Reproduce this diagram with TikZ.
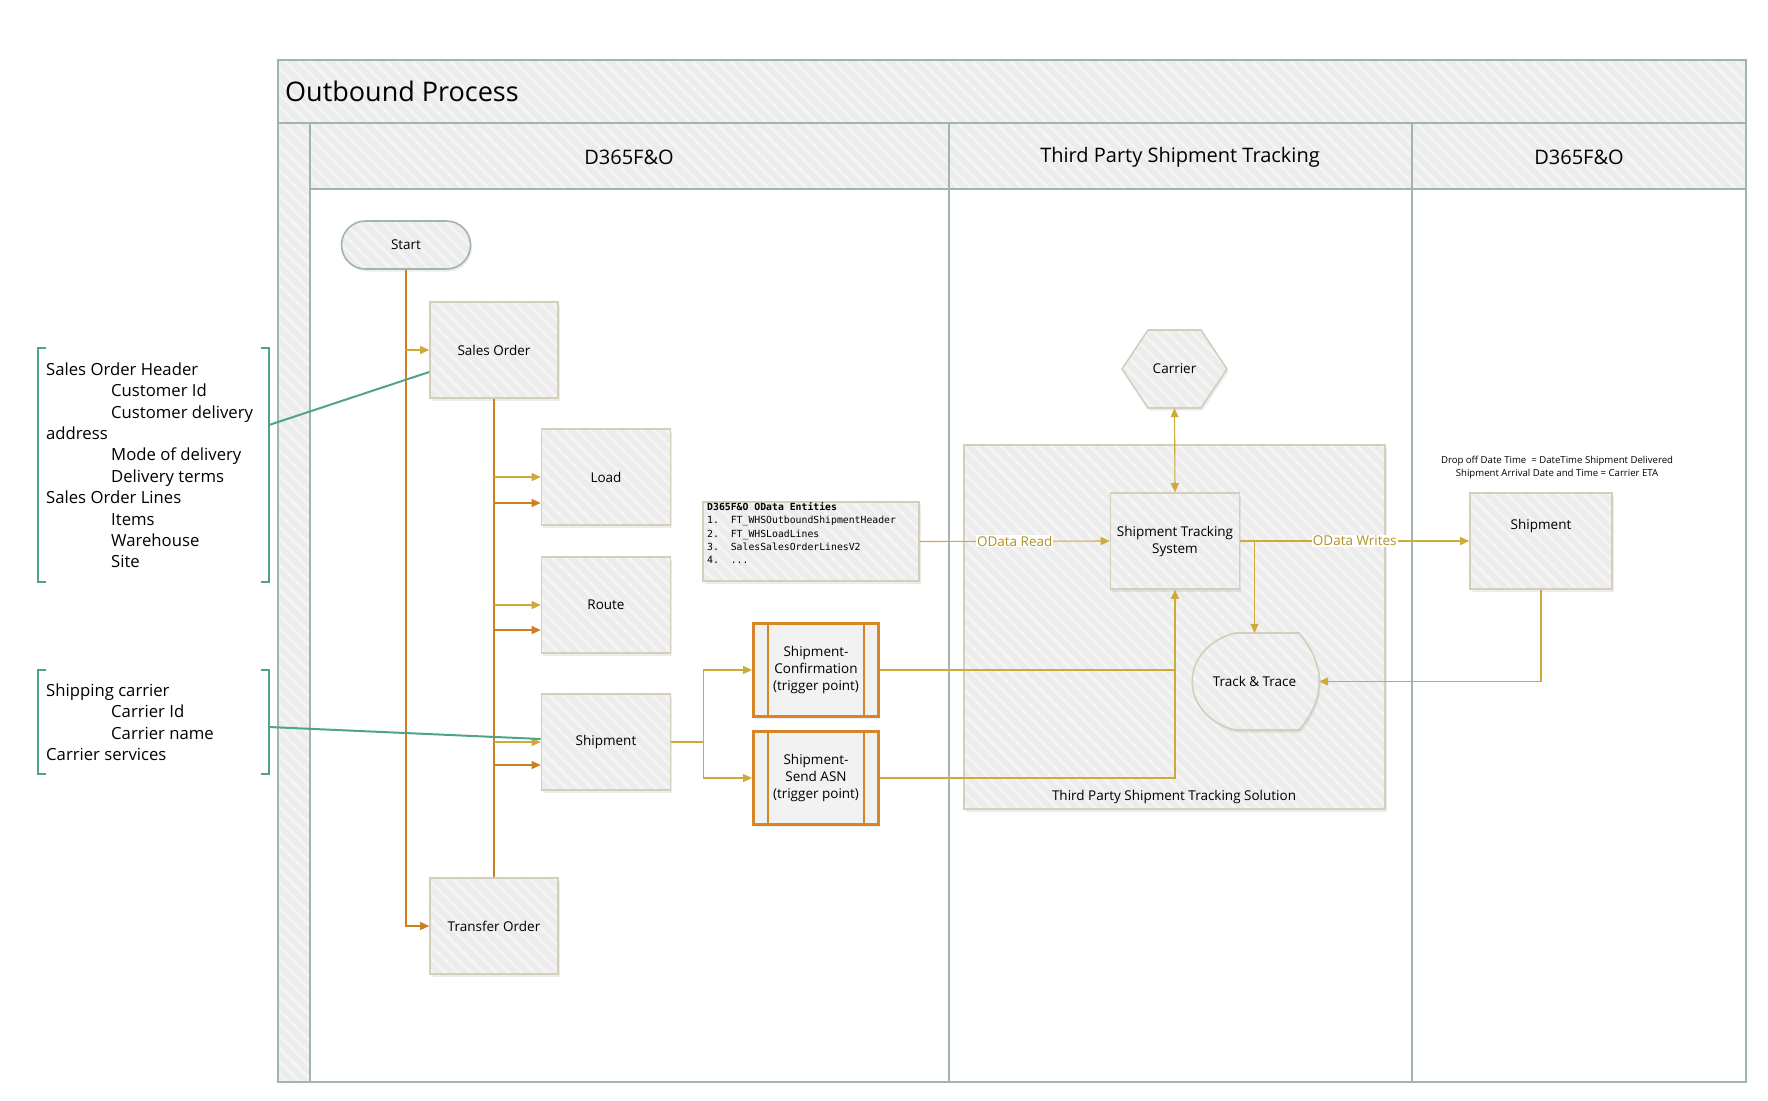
\documentclass[tikz,border=0pt]{standalone}
\usepackage{fontspec}
\setmainfont{Open Sans}
\setmonofont{DejaVu Sans Mono}
\usetikzlibrary{arrows.meta,patterns.meta,shadows,calc}
\definecolor{framecol}{RGB}{160,180,176}
\definecolor{boxborder}{RGB}{212,206,186}
\definecolor{hatchbase}{RGB}{236,236,236}
\definecolor{hatchstripe}{RGB}{244,244,244}
\definecolor{goldc}{RGB}{206,170,56}
\definecolor{goldtext}{RGB}{176,146,40}
\definecolor{orangec}{RGB}{204,128,36}
\definecolor{trigc}{RGB}{214,134,40}
\definecolor{trigfill}{RGB}{242,242,242}
\definecolor{greenc}{RGB}{78,164,134}
\newcommand\nodefnt{\fontsize{13.5}{17}\selectfont}
\newcommand\bracketfnt{\fontsize{16.7}{21.4}\selectfont}
\begin{document}
\begin{tikzpicture}[x=1pt,y=-1pt,
  hatch/.style={preaction={fill=hatchbase}, preaction={pattern={Lines[angle=-45,distance=9pt,line width=3pt]}, pattern color=hatchstripe}},
  lanebox/.style={hatch, draw=framecol, line width=1.3pt},
  shad/.style={drop shadow={shadow xshift=1.5pt,shadow yshift=-2.5pt,opacity=0.15}},
  procbox/.style={shad, hatch, draw=boxborder, line width=1.6pt, minimum width=128pt, minimum height=96pt, inner sep=2pt, align=center, font=\nodefnt},
  trigbox/.style={shad, draw=trigc, line width=3pt, fill=trigfill, minimum width=125pt, minimum height=93pt, inner sep=2pt, align=center, font=\nodefnt},
  goldline/.style={draw=goldc, line width=1.1pt},
  orline/.style={draw=orangec, line width=1.1pt},
  arr/.style={-{Triangle[length=9pt,width=8pt]}},
  lbl/.style={fill=white, text=goldtext, inner sep=1pt, font=\nodefnt},
  brk/.style={draw=greenc, line width=2pt},
  txt/.style={inner sep=0pt}
]
\useasboundingbox (0,0) rectangle (1768,1100);
% ---- pool and lanes
\path[lanebox] (278,60) rectangle (1746,123);
\path[lanebox] (278,123) rectangle (310,1082);
\path[lanebox] (310,123) rectangle (1746,189);
\draw[framecol, line width=1.3pt] (278,60) rectangle (1746,1082);
\draw[framecol, line width=1.3pt] (949,123) -- (949,1082);
\draw[framecol, line width=1.3pt] (1412,123) -- (1412,1082);
\node[txt, anchor=west, font=\fontsize{27}{32}\selectfont] (title) at (285,91) {Outbound Process};
\node[txt, font=\fontsize{20}{24}\selectfont] (lane1) at (629,157) {D365F\&O};
\node[txt, font=\fontsize{20}{24}\selectfont] (lane2) at (1180,157) {Third Party Shipment Tracking};
\node[txt, font=\fontsize{20}{24}\selectfont] (lane3) at (1579,157) {D365F\&O};
% ---- D365 lane nodes
\node[procbox, draw=framecol, minimum width=129pt, minimum height=48pt, rounded corners=24pt] (start) at (406,245) {Start};
\node[procbox] (so) at (494,350) {Sales Order};
\node[procbox, minimum width=129pt] (load) at (606,477) {Load};
\node[procbox, minimum width=129pt] (route) at (606,605) {Route};
\node[procbox, minimum width=129pt] (ship) at (606,742) {Shipment};
\node[procbox] (to) at (494,926) {Transfer Order};
\node[procbox, minimum width=216pt, minimum height=79pt] (od) at (811,541.5) {};
\node[txt, anchor=north west, align=left, font=\fontsize{9.8}{13.2}\selectfont\ttfamily] (odtext) at (707,502.5) {\textbf{D365F\&O OData Entities}\\1.\ \ FT\_WHSOutboundShipmentHeader\\2.\ \ FT\_WHSLoadLines\\3.\ \ SalesSalesOrderLinesV2\\4.\ \ ...};
\node[trigbox] (conf) at (816,670) {Shipment-\\Confirmation\\(trigger point)};
\node[trigbox] (asn) at (816,778) {Shipment-\\Send ASN\\(trigger point)};
\draw[trigc, line width=2.5pt] ([xshift=16pt]conf.north west) -- ([xshift=16pt]conf.south west);
\draw[trigc, line width=2.5pt] ([xshift=-16pt]conf.north east) -- ([xshift=-16pt]conf.south east);
\draw[trigc, line width=2.5pt] ([xshift=16pt]asn.north west) -- ([xshift=16pt]asn.south west);
\draw[trigc, line width=2.5pt] ([xshift=-16pt]asn.north east) -- ([xshift=-16pt]asn.south east);
% ---- third party lane
\node[procbox, minimum width=421pt, minimum height=364pt] (sol) at (1174.5,627) {};
\node[txt, font=\nodefnt] (soltitle) at (1174,797) {Third Party Shipment Tracking Solution};
\path[shad, hatch, draw=boxborder, line width=1.6pt] (1122,369) -- (1148,330) -- (1201,330) -- (1227,369) -- (1201,408) -- (1148,408) -- cycle;
\node[minimum width=105pt, minimum height=78pt, font=\nodefnt] (carrier) at (1174.5,369) {Carrier};
\node[procbox, minimum width=129pt] (sts) at (1175,541) {Shipment Tracking\\System};
\path[shad, hatch, draw=boxborder, line width=1.6pt] (1235,633) -- (1299,633) .. controls (1326,665) and (1326,698) .. (1299,730) -- (1235,730) .. controls (1178,715) and (1178,648) .. (1235,633) -- cycle;
\node[minimum width=129pt, minimum height=97pt, font=\nodefnt] (track) at (1254.5,681.5) {Track \& Trace};
% ---- right D365 lane
\node[txt, align=center, font=\fontsize{9.6}{13}\selectfont] (note) at (1557,467.5) {Drop off Date Time \ = DateTime Shipment Delivered\\Shipment Arrival Date and Time = Carrier ETA};
\node[procbox, minimum width=142pt] (ship2) at (1541,541) {};
\node[txt, font=\nodefnt] (ship2text) at (1541,526) {Shipment};
% ---- brackets (annotations)
\draw[brk] (46,348) -- (38,348) -- (38,582) -- (46,582);
\draw[brk] (261,348) -- (269,348) -- (269,582) -- (261,582);
\node[txt, anchor=north west, align=left, font=\bracketfnt] (ann1) at (46,362.5) {Sales Order Header\\\hspace*{65pt}Customer Id\\\hspace*{65pt}Customer delivery\\address\\\hspace*{65pt}Mode of delivery\\\hspace*{65pt}Delivery terms\\Sales Order Lines\\\hspace*{65pt}Items\\\hspace*{65pt}Warehouse\\\hspace*{65pt}Site};
\draw[brk] (46,670) -- (38,670) -- (38,774) -- (46,774);
\draw[brk] (261,670) -- (269,670) -- (269,774) -- (261,774);
\node[txt, anchor=north west, align=left, font=\bracketfnt] (ann2) at (46,683.5) {Shipping carrier\\\hspace*{65pt}Carrier Id\\\hspace*{65pt}Carrier name\\Carrier services};
\coordinate (b1) at (269,425);
\coordinate (b2) at (269,727);
% ---- connectors
\draw[orline, arr] (start.south) |- (to.west);
\draw[goldline, arr] (start.south |- so.west) -- (so.west);
\draw[orline] (so.south) -- (to.north);
\draw[goldline, arr] (so.south |- load.west) -- (load.west);
\draw[orline, arr] ($(so.south |- load.west)+(0,26)$) -- ($(load.west)+(0,26)$);
\draw[goldline, arr] (so.south |- route.west) -- (route.west);
\draw[orline, arr] ($(so.south |- route.west)+(0,25)$) -- ($(route.west)+(0,25)$);
\draw[goldline, arr] (so.south |- ship.west) -- (ship.west);
\draw[orline, arr] ($(so.south |- ship.west)+(0,23)$) -- ($(ship.west)+(0,23)$);
\draw[goldline, arr] (ship.east) -- ($(ship.east)+(32,0)$) |- (conf.west);
\draw[goldline, arr] ($(ship.east)+(32,0)$) |- (asn.west);
\draw[goldline, arr] (od.east) -- node[lbl] {OData Read} (sts.west);
\draw[goldline] (conf.east) -- (conf.east -| sts.south);
\draw[goldline, arr] (asn.east) -| (sts.south);
\draw[goldline, {Triangle[length=9pt,width=8pt]}-{Triangle[length=9pt,width=8pt]}] (carrier.south) -- (sts.north);
\draw[goldline, arr] (sts.east) -- node[lbl] {OData Writes} (ship2.west);
\draw[goldline, arr] (track.north |- sts.east) -- (track.north);
\draw[goldline, arr] (ship2.south) |- (track.east);
\draw[greenc, line width=2pt] (b1) -- ([yshift=-22pt]so.west);
\draw[greenc, line width=2pt] (b2) -- ([yshift=3pt]ship.west);
\end{tikzpicture}
\end{document}
